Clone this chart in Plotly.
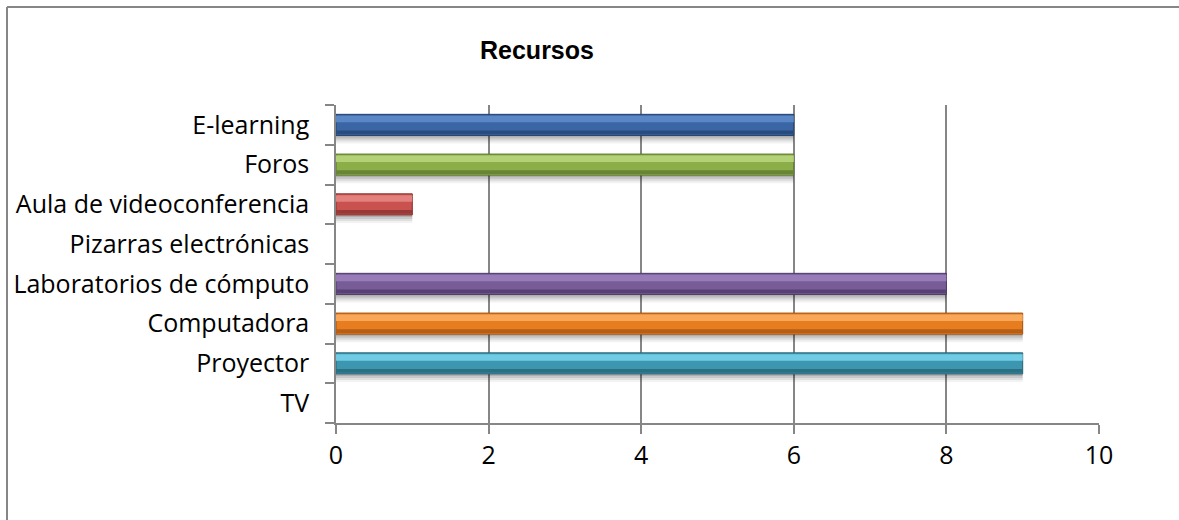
import plotly.graph_objects as go

# Recursos: count per resource (bottom to top on the chart)
categories = ["TV", "Proyector", "Computadora", "Laboratorios de cómputo",
              "Pizarras electrónicas", "Aula de videoconferencia", "Foros", "E-learning"]
values = [0, 9, 9, 8, 0, 1, 6, 6]

# Bevelled bar palette per category: highlight / body / shade / outline
highlight = ["#7fd3ea", "#70cbe4", "#f9a85a", "#977cb8", "#eeeeee", "#e2817e", "#b3d278", "#5b87c6"]
body      = ["#4bacc6", "#3d96b0", "#e87d1f", "#785c98", "#cccccc", "#c9524e", "#8cae48", "#3a66a5"]
shade     = ["#2f7a8f", "#2b6f83", "#b45e17", "#574273", "#aaaaaa", "#973936", "#688535", "#294c7e"]
outline   = ["#2a6a7c", "#2a6576", "#a05414", "#4c3a65", "#999999", "#85312f", "#5b752f", "#243f6a"]

x_ticks = [0, 2, 4, 6, 8, 10]

BAR_W = 0.53          # bar thickness in category units
PX = 1 / 39.8         # one pixel in category units

def visible(colors):
    return [c if v > 0 else "rgba(0,0,0,0)" for c, v in zip(colors, values)]

fig = go.Figure()

# soft drop shadow under each bar
for k, alpha in [(8, 0.05), (6, 0.08), (4, 0.10), (2, 0.12)]:
    fig.add_trace(go.Bar(
        y=categories, x=values, orientation="h",
        width=BAR_W, offset=-BAR_W / 2 - k * PX,
        marker=dict(color=visible([f"rgba(0,0,0,{alpha})"] * len(values)), line=dict(width=0)),
        hoverinfo="skip", showlegend=False,
    ))

# bar body
fig.add_trace(go.Bar(
    y=categories, x=values, orientation="h",
    width=BAR_W, offset=-BAR_W / 2,
    marker=dict(color=visible(body), line=dict(color=visible(outline), width=1)),
    showlegend=False,
))

# lower shaded band
fig.add_trace(go.Bar(
    y=categories, x=values, orientation="h",
    width=BAR_W * 0.18, offset=-BAR_W / 2 + 1.2 * PX,
    marker=dict(color=visible(shade), line=dict(width=0)),
    hoverinfo="skip", showlegend=False,
))

# upper highlight band
fig.add_trace(go.Bar(
    y=categories, x=values, orientation="h",
    width=BAR_W * 0.3, offset=BAR_W / 2 - BAR_W * 0.3 - 1.5 * PX,
    marker=dict(color=visible(highlight), line=dict(width=0)),
    hoverinfo="skip", showlegend=False,
))

L, R, T, B = 336, 80, 105, 97
W, H = 1179, 520
pw, ph = W - L - R, H - T - B

def px_x(x):
    return (x - L) / pw

def px_y(y):
    return (H - B - y) / ph

grey = "#868686"

fig.update_layout(
    width=W, height=H,
    margin=dict(l=L, r=R, t=T, b=B),
    paper_bgcolor="white", plot_bgcolor="white",
    barmode="overlay",
    font=dict(family="'Open Sans', Lato, sans-serif", size=25, color="#000000"),
    xaxis=dict(
        range=[0, 10], tickvals=x_ticks, ticktext=[str(t) for t in x_ticks],
        showgrid=True, gridcolor=grey, gridwidth=1.5,
        showline=True, linecolor=grey, linewidth=1.5,
        ticks="outside", ticklen=9, tickcolor=grey, tickwidth=1.5,
        zeroline=False, fixedrange=True,
    ),
    yaxis=dict(
        type="category", categoryorder="array", categoryarray=categories,
        showgrid=False, showline=True, linecolor=grey, linewidth=1.5,
        ticks="outside", tickson="boundaries", ticklen=9, tickcolor=grey, tickwidth=1.5,
        ticklabelstandoff=20, fixedrange=True,
    ),
    annotations=[dict(
        text="<b>Recursos</b>", x=px_x(537), y=px_y(50), xref="paper", yref="paper",
        xanchor="center", yanchor="middle", showarrow=False,
        font=dict(family="Liberation Sans, Arial, sans-serif", size=25, color="#000000"),
    )],
    shapes=[
        dict(type="line", xref="paper", yref="paper", x0=px_x(7), x1=px_x(W + 5),
             y0=px_y(7), y1=px_y(7), line=dict(color=grey, width=2)),
        dict(type="line", xref="paper", yref="paper", x0=px_x(7), x1=px_x(7),
             y0=px_y(7), y1=px_y(H + 5), line=dict(color=grey, width=2)),
    ],
)

fig.write_html("out.html", config={"displayModeBar": False})
